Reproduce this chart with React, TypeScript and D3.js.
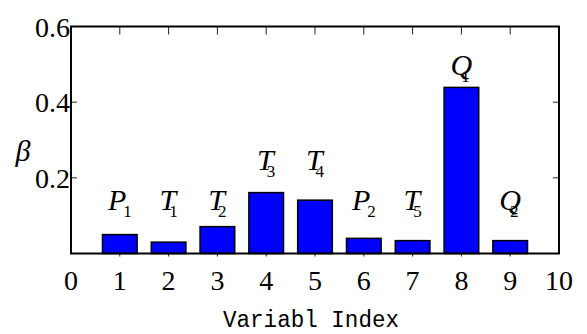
import * as d3 from 'd3';
import React from 'react';

// bar data: variable index -> sensitivity beta
const indices = [1, 2, 3, 4, 5, 6, 7, 8, 9];
const betaValues = [0.05, 0.03, 0.071, 0.161, 0.141, 0.04, 0.034, 0.439, 0.034];
const varNames = ['P', 'T', 'T', 'T', 'T', 'P', 'T', 'Q', 'Q'];
const varSubs = ['1', '1', '2', '3', '4', '2', '5', '1', '2'];
// label baseline level (in beta units)
const labelAt = [0.115, 0.115, 0.115, 0.221, 0.221, 0.115, 0.115, 0.472, 0.115];

const xTicks = [0, 1, 2, 3, 4, 5, 6, 7, 8, 9, 10];
const yTicks = [0.2, 0.4, 0.6];

const W = 587, H = 334;
const margin = { left: 71, right: 28, top: 26.5, bottom: 80.5 };
const serif = 'Liberation Serif';

// subscript nudge so it tucks under the italic letter
const subShift = { P: -3, T: -7, Q: -11 };

function App() {
  const x = d3.scaleLinear([0, 10], [margin.left, W - margin.right]);
  const y = d3.scaleLinear([0, 0.6], [H - margin.bottom, margin.top]);
  const barW = (x(1) - x(0)) * 0.71;

  return (
    <svg width={W} height={H} style={{ position: 'absolute', left: 0, top: 0, background: '#fff' }}>
      {/* inward ticks, under the bars */}
      <g stroke="#222" strokeWidth={1}>
        {indices.map(i => (
          <g key={i}>
            <line x1={x(i)} x2={x(i)} y1={y(0.6)} y2={y(0.6) + 8} />
            <line x1={x(i)} x2={x(i)} y1={y(0) + 3} y2={y(0) - 8} />
          </g>
        ))}
        {[0.2, 0.4].map(v => (
          <g key={v}>
            <line x1={x(0)} x2={x(0) + 6} y1={y(v)} y2={y(v)} />
            <line x1={x(10)} x2={x(10) - 6} y1={y(v)} y2={y(v)} />
          </g>
        ))}
      </g>

      {/* bars */}
      <g fill="#0000ff" stroke="#000" strokeWidth={1.5}>
        {indices.map((d, i) => (
          <rect key={d} x={x(d) - barW / 2} width={barW}
            y={y(betaValues[i])} height={y(0) - y(betaValues[i])} />
        ))}
      </g>

      {/* frame */}
      <rect x={x(0)} y={y(0.6)} width={x(10) - x(0)} height={y(0) - y(0.6)}
        fill="none" stroke="#000" strokeWidth={2} />

      {/* x tick labels */}
      {xTicks.map(d => (
        <text key={d} x={x(d)} y={y(0) + 36} fontFamily={serif} fontSize={28} textAnchor="middle">{d}</text>
      ))}

      {/* y tick labels */}
      {yTicks.map(d => (
        <text key={d} x={x(0) - 1} y={y(d) + 10} fontFamily={serif} fontSize={28} textAnchor="end">
          {d3.format('.1f')(d)}
        </text>
      ))}

      {/* variable labels */}
      {indices.map((d, i) => (
        <text key={d} x={x(d)} y={y(labelAt[i])} fontFamily={serif} fontSize={30} textAnchor="middle">
          <tspan fontStyle="italic">{varNames[i]}</tspan>
          <tspan fontSize={17} dy={7} dx={subShift[varNames[i]]}>{varSubs[i]}</tspan>
        </text>
      ))}

      {/* axis titles */}
      <text x={23} y={161} textAnchor="middle" fontFamily={serif} fontStyle="italic" fontSize={30}>β</text>
      <text x={223} y={327} fontFamily="Liberation Mono" fontSize={23}
        textLength={176} lengthAdjust="spacingAndGlyphs">Variabl Index</text>
    </svg>
  );
}

export default App;
